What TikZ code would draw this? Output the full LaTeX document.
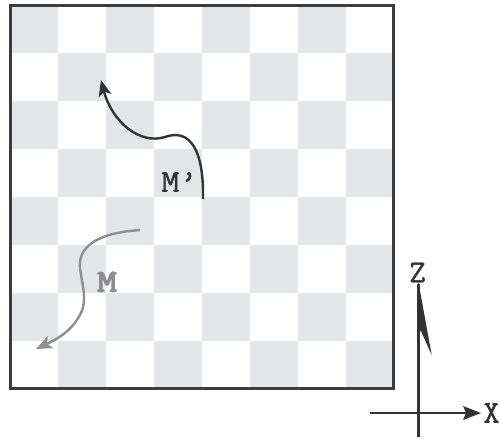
\documentclass[tikz,border=0pt]{standalone}
\usepackage{fontspec}
\newfontfamily\lmtt{Latin Modern Mono}[FakeBold=1.2]
\newfontfamily\lmttb{Latin Modern Mono}[FakeBold=3.5]
\usetikzlibrary{arrows.meta}
\definecolor{sq}{HTML}{E4E5E7}
\definecolor{frame}{HTML}{3C3C3E}
\definecolor{ink}{HTML}{333335}
\definecolor{grayink}{HTML}{8E8E90}
\tikzset{
  path1/.style={line width=2.4pt, draw=ink, -{Stealth[length=16pt,width=13pt,inset=4pt]}},
  path2/.style={line width=2.4pt, draw=grayink, -{Stealth[length=16pt,width=13pt,inset=4pt]}},
  axis/.style={line width=2.2pt, draw=ink},
  lbl/.style={font=\lmtt\fontsize{32}{32}\selectfont, inner sep=0pt},
}
\begin{document}
\begin{tikzpicture}[x=1pt,y=-1pt]
\useasboundingbox (0,0) rectangle (499,439);
\fill[white] (0,0) rectangle (499,439);
% checkerboard
\foreach \r in {0,...,7}{
  \foreach \c in {0,...,7}{
    \pgfmathtruncatemacro{\parity}{mod(\r+\c,2)}
    \ifnum\parity=0
      \fill[sq] ({10.5+\c*47.875},{5.5+\r*47.875}) rectangle ++(47.875,47.875);
    \fi
  }
}
\draw[line width=3pt, draw=frame] (10.5,5.5) rectangle (393.5,388.5);
% M' path
\coordinate (p1s) at (203,199);
\coordinate (p1e) at (101,80);
\draw[path1] (p1s) .. controls (204,150) and (190,128) .. (165,137) .. controls (140,145) and (112,122) .. (p1e);
\node[lbl, text=ink, xscale=1.1] (mp) at (179.5,182) {M’};
% M path
\coordinate (p2s) at (140,230);
\coordinate (p2e) at (36,349);
\draw[path2] (p2s) .. controls (95,233) and (78,248) .. (80,268) .. controls (82,285) and (88,300) .. (80,315) .. controls (70,333) and (55,340) .. (p2e);
\node[lbl, text=grayink, xscale=1.2, font=\lmttb\fontsize{32}{32}\selectfont] (m) at (107,282) {M};
% axes
\coordinate (zb) at (418.5,437);
\coordinate (zt) at (418.5,284);
\coordinate (xl) at (370,413);
\coordinate (xr) at (467,413);
\draw[axis] (zb) -- (zt);
\fill[ink] (418.3,281.5) -- (431.7,355) -- (420.5,330) -- (417.4,342) -- (417.4,300) -- cycle;
\draw[axis] (xl) -- (xr);
\fill[ink] (481,413) -- (463,406) -- (466,413) -- (463,420) -- cycle;
\node[lbl, text=ink] (zl) at (417.5,272.5) {Z};
\node[lbl, text=ink] (xlab) at (491.5,413) {X};
\end{tikzpicture}
\end{document}
